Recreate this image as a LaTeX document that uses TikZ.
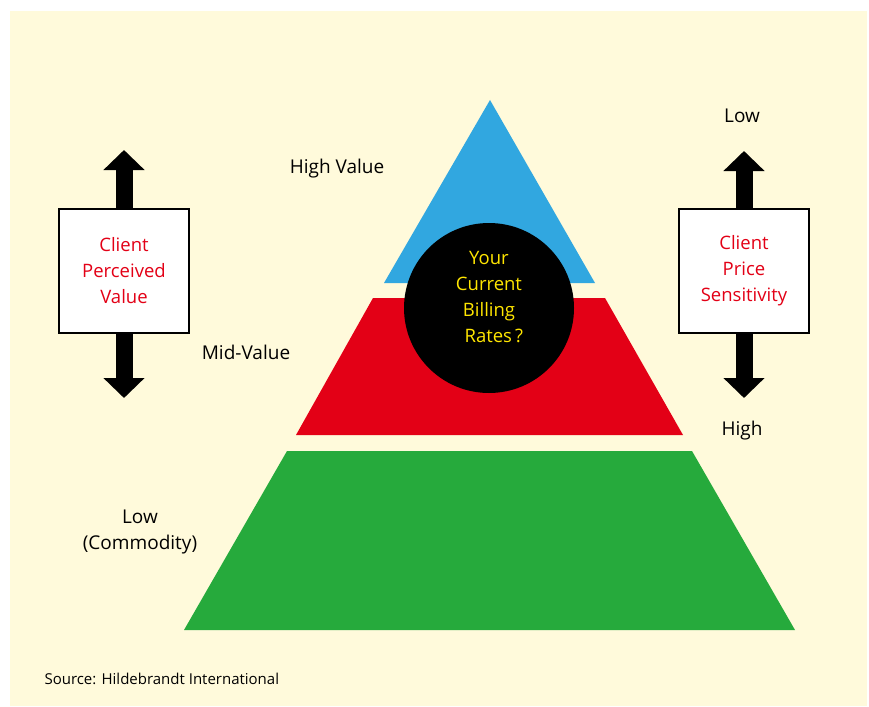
\documentclass[tikz,border=0pt]{standalone}
\usepackage{fontspec}
\setmainfont{Open Sans}
\usetikzlibrary{arrows.meta,positioning}

\definecolor{creamBg}{RGB}{255,250,219}
\definecolor{tierBlue}{RGB}{49,167,224}
\definecolor{tierRed}{RGB}{227,0,22}
\definecolor{tierGreen}{RGB}{38,170,60}
\definecolor{rateYellow}{RGB}{255,230,0}

\begin{document}
\begin{tikzpicture}[x=1pt,y=-1pt,
    sidebox/.style={draw=black,line width=2pt,fill=white,minimum width=130pt,
                    minimum height=124pt,text=tierRed,align=center,
                    font=\fontsize{18.5}{26}\selectfont},
    bigarrow/.style={line width=17pt,-{Triangle[length=20pt,width=40pt]}},
    tiertext/.style={align=center,font=\fontsize{19}{26}\selectfont}
  ]
  % page and cream panel
  \fill[white] (0,0) rectangle (869,706);
  \fill[creamBg] (10,11) rectangle (867,706);

  % the three tiers
  \fill[tierBlue] (490,100) -- (595,283) -- (384,283) -- cycle;
  \fill[tierRed] (373,298) -- (605,298) -- (683,435) -- (296,435) -- cycle;
  \fill[tierGreen] (287,451) -- (692,451) -- (795,630) -- (184,630) -- cycle;

  \node[circle,fill=black,minimum size=170pt,inner sep=0pt] (rates) at (489,308) {};
  \node[text=rateYellow,align=center,font=\fontsize{18.5}{26}\selectfont]
       (ratestext) at ([yshift=11pt]rates.center)
       {Your\\Current\\Billing\\\ \ Rates\,?};

  % scales left and right
  \node[sidebox] (value) at (124,271) {Client\\Perceived\\Value};
  \node[sidebox] (price) at (744,271) {Client\\Price\\Sensitivity};
  \coordinate (valuetop) at (124,150);
  \coordinate (valuebot) at (124,398);
  \coordinate (pricetop) at (744,151);
  \coordinate (pricebot) at (744,398);
  \draw[bigarrow] (value.north) -- (valuetop);
  \draw[bigarrow] (value.south) -- (valuebot);
  \draw[bigarrow] (price.north) -- (pricetop);
  \draw[bigarrow] (price.south) -- (pricebot);

  \node[tiertext] (low) at (742,116) {Low};
  \node[tiertext] (high) at (742,431) {High};
  \node[tiertext] (highval) at (337,169) {High Value};
  \node[tiertext] (midval) at (246,352) {Mid-Value};
  \node[tiertext] (lowval) at (140,532) {Low\\(Commodity)};

  \node[anchor=west,font=\fontsize{15}{17}\selectfont] (source) at (41,679)
       {Source: Hildebrandt International};
\end{tikzpicture}
\end{document}
